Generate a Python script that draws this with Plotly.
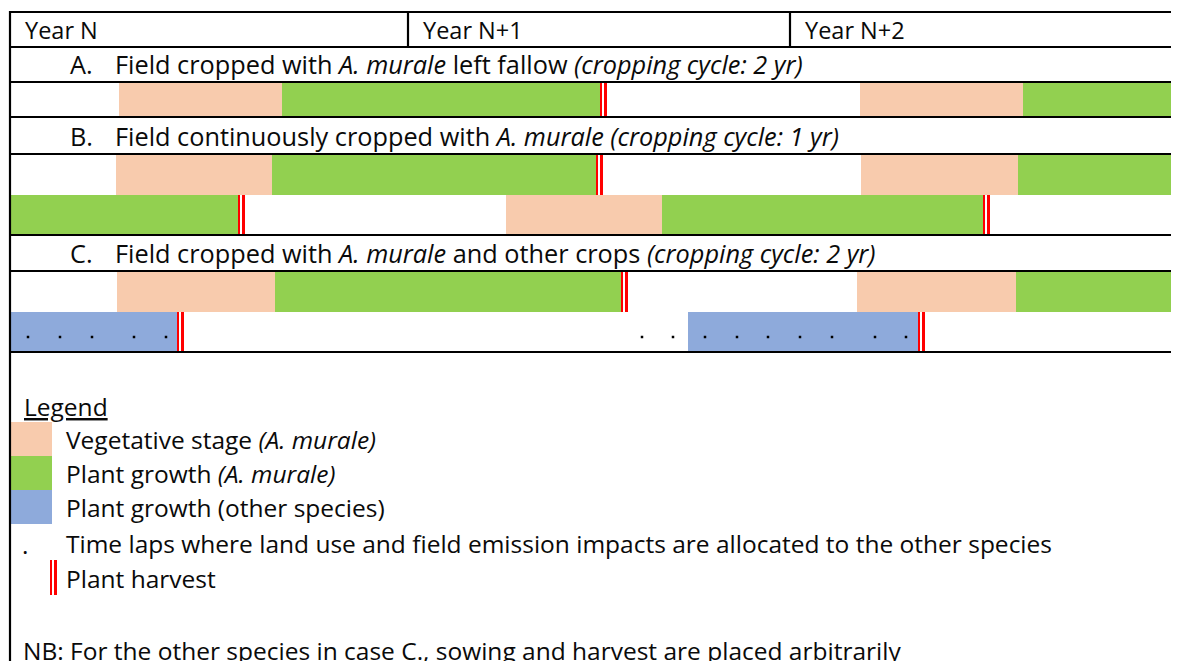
import plotly.graph_objects as go

W, H = 1179, 661
OFF = 8  # default page body margin
FONT = "Open Sans"
FS_HEAD = 23.5
FS_ROW = 25.3
FS_LEG = 24.5

PEACH = "#F8CBAD"
GREEN = "#92D050"
BLUE = "#8EAADB"
RED = "#FF0000"

# lanes: name -> (top, bottom)
lane_names = ["A", "B1", "B2", "C1", "C2"]
lane_tops = [82, 154, 195, 271, 312]
lane_bottoms = [117, 195, 235, 312, 352]

# segments along the timeline (x positions), by lane
seg_lane = ["A", "A", "A", "A",
            "B1", "B1", "B1", "B1",
            "B2", "B2", "B2",
            "C1", "C1", "C1", "C1",
            "C2", "C2"]
seg_kind = ["veg", "grow", "veg", "grow",
            "veg", "grow", "veg", "grow",
            "grow", "veg", "grow",
            "veg", "grow", "veg", "grow",
            "other", "other"]
seg_start = [119, 282, 860, 1023,
             116, 272, 861, 1018,
             10, 506, 662,
             117, 275, 857, 1016,
             10, 688]
seg_end = [282, 600, 1023, 1179,
           272, 597, 1018, 1179,
           238, 662, 983,
           275, 621, 1016, 1179,
           177, 918]

# harvest events
harv_lane = ["A", "B1", "B2", "B2", "C1", "C2", "C2"]
harv_x = [600, 596, 238, 983, 621, 177, 918]

# dots (time laps allocated to other species) in lane C2
dot_x = [28, 60, 92, 134, 166, 642, 673, 705, 737, 768, 800, 832, 875, 906]

kind_color = {"veg": PEACH, "grow": GREEN, "other": BLUE}

# year headers
year_labels = ["Year N", "Year N+1", "Year N+2"]
year_x = [23, 421, 803]
col_dividers = [408, 790]

# row titles
row_letters = ["A.", "B.", "C."]
row_titles = [
    "Field cropped with <i>A. murale</i> left fallow <i>(cropping cycle: 2 yr)</i>",
    "Field continuously cropped with <i>A. murale (cropping cycle: 1 yr)</i>",
    "Field cropped with <i>A. murale</i> and other crops <i>(cropping cycle: 2 yr)</i>",
]
row_title_y = [63.5, 135.5, 253]

# horizontal table lines
hlines = [12, 47, 82, 117, 154, 235, 271, 352]

# legend
legend_kinds = ["veg", "grow", "other"]
legend_texts = [
    "Vegetative stage <i>(A. murale)</i>",
    "Plant growth <i>(A. murale)</i>",
    "Plant growth (other species)",
]
legend_tops = [422, 456, 490]
legend_bottoms = [456, 490, 524]

fig = go.Figure()

lane_idx = {n: i for i, n in enumerate(lane_names)}


def hbar(x0, x1, y0, y1, color):
    fig.add_trace(go.Bar(
        orientation="h", y=[(y0 + y1) / 2], x=[x1 - x0], base=[x0],
        width=[y1 - y0], marker=dict(color=color, line=dict(width=0)),
        hoverinfo="skip", showlegend=False))


for ln, k, s, e in zip(seg_lane, seg_kind, seg_start, seg_end):
    i = lane_idx[ln]
    hbar(s, e, lane_tops[i], lane_bottoms[i], kind_color[k])


def harvest(x, y0, y1):
    hbar(x, x + 7, y0, y1, RED)
    hbar(x + 2.5, x + 4.3, y0, y1, "white")


for ln, x in zip(harv_lane, harv_x):
    i = lane_idx[ln]
    harvest(x, lane_tops[i], lane_bottoms[i])

fig.add_trace(go.Scatter(
    x=dot_x, y=[337] * len(dot_x), mode="markers",
    marker=dict(symbol="square", size=2.5, color="black", line=dict(width=0)),
    hoverinfo="skip", showlegend=False))

# legend swatches
for k, t0, t1 in zip(legend_kinds, legend_tops, legend_bottoms):
    hbar(10, 52, t0, t1, kind_color[k])
harvest(50, 560, 595)

shapes = []
for y in hlines:
    shapes.append(dict(type="line", xref="x", yref="y", x0=10, x1=W, y0=y, y1=y,
                       line=dict(color="black", width=2.2)))
shapes.append(dict(type="line", xref="x", yref="y", x0=10, x1=10, y0=11, y1=H,
                   line=dict(color="black", width=2.2)))
for x in col_dividers:
    shapes.append(dict(type="line", xref="x", yref="y", x0=x, x1=x, y0=12, y1=47,
                       line=dict(color="black", width=2.2)))

ann = []


def txt(x, y, s, size, **font):
    f = dict(family=FONT, size=size, color="#0a0a0a")
    f.update(font)
    ann.append(dict(x=x, y=y, xref="x", yref="y", text=s, showarrow=False,
                    xanchor="left", yanchor="middle", font=f))


for lab, x in zip(year_labels, year_x):
    txt(x, 30, lab, FS_HEAD)
for lt, t, y in zip(row_letters, row_titles, row_title_y):
    txt(68, y, lt, FS_ROW)
    txt(113, y, t, FS_ROW)

txt(22, 406, "Legend", FS_LEG, lineposition="under")
for t, y0, y1 in zip(legend_texts, legend_tops, legend_bottoms):
    txt(64, (y0 + y1) / 2, t, FS_LEG)
txt(20, 544, ".", FS_LEG)
txt(64, 543, "Time laps where land use and field emission impacts are allocated to the other species", FS_LEG)
txt(64, 578, "Plant harvest", FS_LEG)
txt(21, 650, "NB: For the other species in case C., sowing and harvest are placed arbitrarily", FS_LEG)

fig.update_layout(
    width=W - OFF, height=H - OFF, margin=dict(l=0, r=0, t=0, b=0),
    paper_bgcolor="white", plot_bgcolor="white",
    barmode="overlay", bargap=0,
    xaxis=dict(range=[OFF, W], visible=False, fixedrange=True),
    yaxis=dict(range=[H, OFF], visible=False, fixedrange=True),
    shapes=shapes, annotations=ann, showlegend=False,
)

fig.write_html("out.html")
